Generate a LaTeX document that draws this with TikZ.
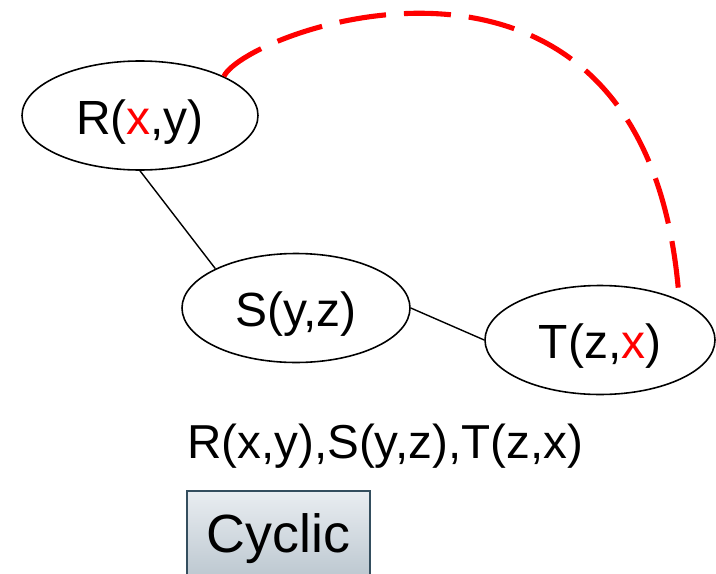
\documentclass[tikz,border=0pt]{standalone}
\usepackage{fontspec}
\setmainfont{Liberation Sans}
\usetikzlibrary{positioning,shapes.geometric}

\definecolor{boxtop}{RGB}{233,237,241}
\definecolor{boxbottom}{RGB}{184,196,205}
\definecolor{boxline}{RGB}{52,78,94}

\tikzset{
	atom/.style={draw, ellipse, line width=0.9pt, inner sep=0pt,
		minimum width=4.6cm, minimum height=2.18cm,
		text height=0.95cm, text depth=0.2cm,
		font=\fontsize{27.3}{32}\selectfont},
	link/.style={line width=0.8pt},
	cycleedge/.style={red, line width=2.9pt, dash pattern=on 0.94cm off 0.36cm},
	tag/.style={draw=boxline, line width=1.1pt, top color=boxtop, bottom color=boxbottom,
		minimum width=3.66cm, minimum height=1.9cm, inner sep=0pt,
		font=\fontsize{30.6}{36}\selectfont}
}

\begin{document}
\begin{tikzpicture}
			\useasboundingbox (0,0) rectangle (14.32,-11.46);
			% the three atoms of the query
			\node[atom, minimum width=4.72cm] (R) at (2.8,-2.31) {R(\textcolor{red}{x},y)};
			\node[atom, minimum width=4.56cm, on grid, below right=3.85cm and 3.12cm of R] (S) {S(y,z)};
			\node[atom, on grid, below right=0.64cm and 6.08cm of S] (T) {T(z,\textcolor{red}{x})};
			\node[on grid, below right=2.76cm and 1.78cm of S, font=\fontsize{27.1}{32}\selectfont] (query) {R(x,y),S(y,z),T(z,x)};
			\node[tag, on grid, below left=4.61cm and 0.35cm of S] (kind) {Cyclic};

			\draw[link] (R.south) -- (S.154);
			\draw[link] (S.east) -- (T.west);
			% x closes the cycle
			\draw[cycleedge] (R.25) .. controls +(0.45,0.95) and +(-0.6,8.3) .. (T.27);
\end{tikzpicture}
\end{document}
